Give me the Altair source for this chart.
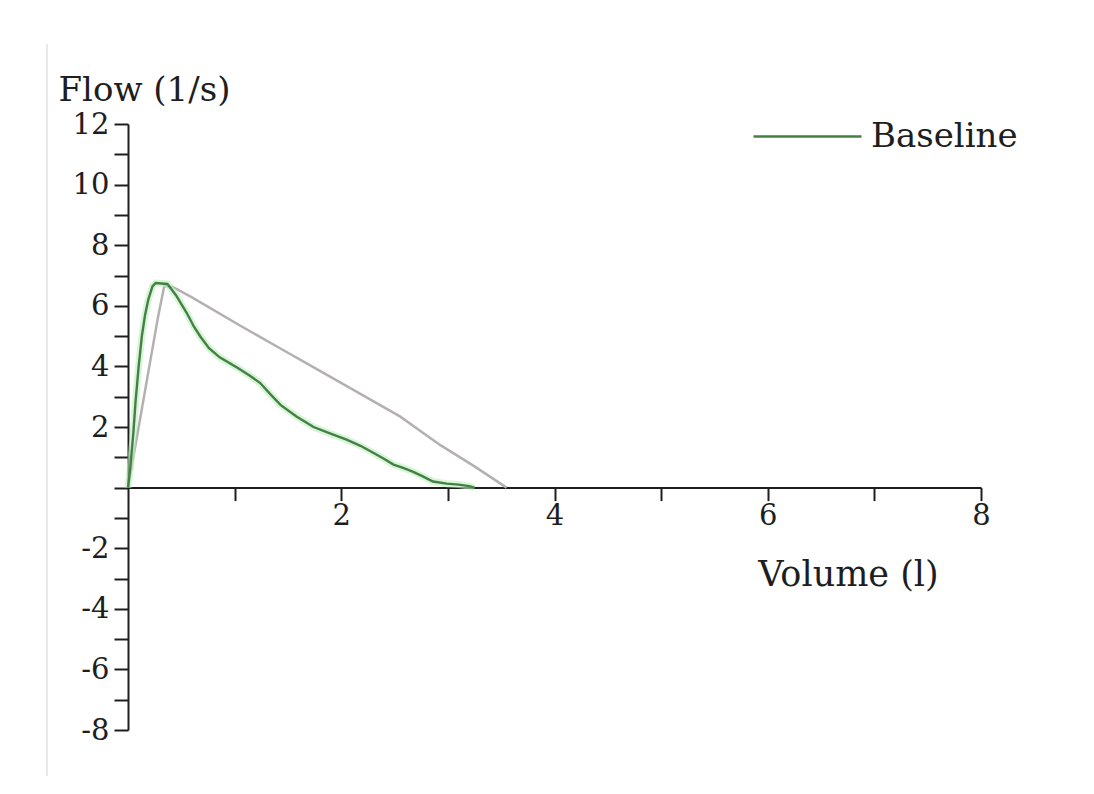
import altair as alt
import pandas as pd

# Baseline flow-volume curve (volume in l, flow in l/s)
green_vol = [0.0, 0.02, 0.05, 0.07, 0.10, 0.13, 0.16, 0.19, 0.23, 0.26, 0.37, 0.45, 0.55, 0.62,
             0.68, 0.76, 0.86, 1.03, 1.14, 1.24, 1.33, 1.43, 1.58, 1.74, 1.90, 2.05, 2.18, 2.30,
             2.40, 2.49, 2.58, 2.67, 2.76, 2.86, 2.99, 3.10, 3.20, 3.25]
green_flow = [0.0, 0.6, 1.8, 2.8, 4.0, 5.0, 5.7, 6.2, 6.65, 6.75, 6.72, 6.35, 5.77, 5.30,
              4.98, 4.60, 4.30, 3.95, 3.70, 3.45, 3.10, 2.73, 2.35, 2.00, 1.78, 1.58, 1.38, 1.15,
              0.95, 0.76, 0.65, 0.53, 0.38, 0.20, 0.13, 0.10, 0.05, 0.0]

# Gray reference curve
gray_vol = [0.0, 0.10, 0.20, 0.28, 0.34, 0.42, 0.60, 1.05, 1.45, 1.80, 2.20, 2.55, 2.93, 3.25, 3.55]
gray_flow = [0.0, 2.0, 4.0, 5.6, 6.65, 6.62, 6.28, 5.35, 4.55, 3.85, 3.05, 2.35, 1.40, 0.70, 0.0]

series_name = ["Baseline"]
x_ticks = [1, 2, 3, 4, 5, 6, 7, 8]
y_ticks = list(range(-8, 13))
x_domain = [0, 8]
y_domain = [-8, 12]

W, H = 853, 606
x_axis_offset = -H * (0 - y_domain[0]) / (y_domain[1] - y_domain[0])

green_df = pd.DataFrame({"vol": green_vol, "flow": green_flow,
                         "series": series_name * len(green_vol), "i": range(len(green_vol))})
gray_df = pd.DataFrame({"vol": gray_vol, "flow": gray_flow, "i": range(len(gray_vol))})

FONT = "DejaVu Serif"
INK = "#1e1e1e"

x_axis = alt.Axis(values=x_ticks,
                  labelExpr="datum.value % 2 == 0 ? toString(datum.value) : ''",
                  grid=False, domainColor=INK, domainWidth=2, tickColor=INK, tickWidth=2,
                  tickSize=13, labelFont=FONT, labelFontSize=29, labelColor=INK, labelPadding=1,
                  offset=x_axis_offset, title="Volume (l)", titleFont=FONT, titleFontSize=35,
                  titleFontWeight="normal", titleColor=INK, titleX=720, titleY=87,
                  titleAlign="center", titleBaseline="middle", labelFlush=False)
y_axis = alt.Axis(values=y_ticks,
                  labelExpr="(datum.value % 2 == 0 && datum.value != 0) ? toString(datum.value) : ''",
                  grid=False, domainColor=INK, domainWidth=2, tickColor=INK, tickWidth=2,
                  tickSize=14, labelFont=FONT, labelFontSize=29, labelColor=INK, labelPadding=5,
                  title="Flow (1/s)", titleFont=FONT, titleFontSize=34, titleFontWeight="normal",
                  titleColor=INK, titleAngle=0, titleX=-70, titleY=-34, titleAlign="left",
                  titleBaseline="middle", labelFlush=False)

xs = alt.Scale(domain=x_domain, nice=False, zero=False)
ys = alt.Scale(domain=y_domain, nice=False, zero=False)

gray = alt.Chart(gray_df).mark_line(color="#b4b0b0", strokeWidth=2.5).encode(
    x=alt.X("vol:Q", scale=xs, axis=x_axis),
    y=alt.Y("flow:Q", scale=ys, axis=y_axis),
    order="i:Q",
)

halo = alt.Chart(green_df).mark_line(color="#bdeebd", strokeWidth=7, opacity=0.6).encode(
    x=alt.X("vol:Q", scale=xs, axis=x_axis),
    y=alt.Y("flow:Q", scale=ys, axis=y_axis),
    order="i:Q",
)

green = alt.Chart(green_df).mark_line(strokeWidth=2.4).encode(
    x=alt.X("vol:Q", scale=xs, axis=x_axis),
    y=alt.Y("flow:Q", scale=ys, axis=y_axis),
    order="i:Q",
    color=alt.Color("series:N", scale=alt.Scale(domain=series_name, range=["#457f45"]),
                    legend=alt.Legend(title=None, orient="none", legendX=624, legendY=-43,
                                      symbolType="stroke", symbolSize=11664,
                                      symbolStrokeWidth=2.5, labelFont=FONT, labelFontSize=34,
                                      labelColor=INK, labelOffset=8)),
)

frame = alt.Chart(pd.DataFrame({"k": [0]})).mark_rule(color="#e2e2e2", strokeWidth=1.5).encode(
    x=alt.value(-81), y=alt.value(-80), y2=alt.value(652)
)

chart = alt.layer(frame, gray, halo, green).properties(
    width=W, height=H,
    autosize=alt.AutoSizeParams(type="none"),
    padding={"left": 120, "top": 116, "right": 105, "bottom": 56},
    background="white",
).configure_view(stroke=None)

chart.save("out.html", embed_options={"renderer": "svg", "actions": False})
